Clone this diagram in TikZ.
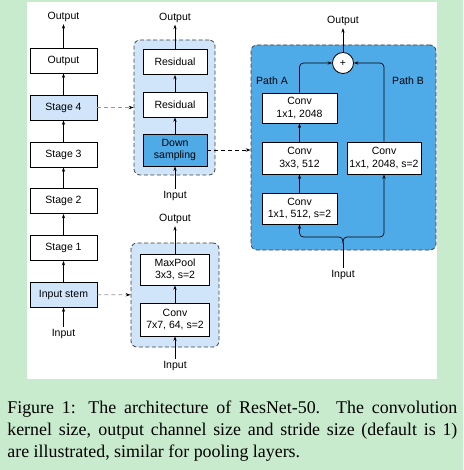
\documentclass[tikz,border=0pt]{standalone}
\usepackage{fontspec}
\setmainfont{Liberation Sans}
\newfontfamily\capfont{Liberation Serif}
\usetikzlibrary{arrows.meta}
\definecolor{bggreen}{RGB}{200,235,205}
\definecolor{paleblue}{RGB}{208,228,250}
\definecolor{midblue}{RGB}{78,171,232}
\definecolor{dashgray}{RGB}{150,150,150}

\tikzset{
  blk/.style={draw, fill=white, line width=0.8pt, minimum width=67pt, minimum height=25pt, inner sep=1pt, align=center},
  grp/.style={draw=black!75, dash pattern=on 4pt off 2.5pt, rounded corners=6pt, line width=0.8pt, inner sep=0pt},
  lbl/.style={inner sep=2pt},
  link/.style={-{Stealth[length=5pt,width=3.5pt,black]}, dash pattern=on 4pt off 3pt},
}

\begin{document}
\begin{tikzpicture}[x=1pt, y=-1pt, font=\fontsize{10.5}{12.5}\selectfont,
    >={Stealth[length=4.5pt,width=3.2pt]}, line width=0.7pt]
    \fill[bggreen] (0,0) rectangle (463,470);
    \fill[white] (27,2) rectangle (437,379);
    \useasboundingbox (0,0) rectangle (463,470);

    % stage column
    \node[lbl] (outL) at (63.5,17) {Output};
    \node[blk] (lout) at (63.5,60.5) {Output};
    \node[blk, fill=paleblue] (stage4) at (63.5,107.5) {Stage 4};
    \node[blk] (stage3) at (63.5,154.5) {Stage 3};
    \node[blk] (stage2) at (63.5,201) {Stage 2};
    \node[blk] (stage1) at (63.5,248) {Stage 1};
    \node[blk, fill=paleblue] (stem) at (63.5,294.5) {Input stem};
    \node[lbl] (inL) at (63.5,334) {Input};

    \draw[->] (inL) -- (stem);
    \draw[->] (stem) -- (stage1);
    \draw[->] (stage1) -- (stage2);
    \draw[->] (stage2) -- (stage3);
    \draw[->] (stage3) -- (stage4);
    \draw[->] (stage4) -- (lout);
    \draw[->] (lout) -- (outL);

    % stage block
    \node[grp, fill=paleblue, minimum width=81pt, minimum height=135pt] (grpS) at (174.5,107.5) {};
    \node[lbl] (outS) at (175,17.5) {Output};
    \node[blk, minimum width=64pt] (res2) at (175,62) {Residual};
    \node[blk, minimum width=64pt] (res1) at (175,104.5) {Residual};
    \node[blk, minimum width=64pt, minimum height=32pt, fill=midblue] (down) at (175,150) {Down\\sampling};
    \node[lbl] (inS) at (175,196) {Input};

    \draw[->] (inS) -- (down);
    \draw[->] (down) -- (res1);
    \draw[->] (res1) -- (res2);
    \draw[->] (res2) -- (outS);

    % stem block
    \node[grp, fill=paleblue, minimum width=88pt, minimum height=104pt] (grpT) at (175,295) {};
    \node[lbl] (outT) at (175,219) {Output};
    \node[blk, minimum width=69pt, minimum height=31pt] (pool) at (175,269.5) {MaxPool\\3x3, s=2};
    \node[blk, minimum width=69pt, minimum height=33pt] (conv7) at (175,319.5) {Conv\\7x7, 64, s=2};
    \node[lbl] (inT) at (175,366) {Input};

    \draw[->] (inT) -- (conv7);
    \draw[->] (conv7) -- (pool);
    \draw[->] (pool) -- (outT);

    % downsampling block
    \node[grp, fill=midblue, minimum width=185pt, minimum height=205pt] (grpD) at (343.5,147.5) {};
    \node[lbl] (outD) at (343,21) {Output};
    \node[draw, fill=white, circle, minimum size=21pt, inner sep=0pt, line width=0.8pt] (plus) at (343,63) {+};
    \node[lbl] at (272,81) {Path A};
    \node[lbl] at (408,81) {Path B};
    \node[blk, minimum width=75pt, minimum height=30pt] (convA3) at (299.5,108) {Conv\\1x1, 2048};
    \node[blk, minimum width=75pt, minimum height=32pt] (convA2) at (299.5,158) {Conv\\3x3, 512};
    \node[blk, minimum width=75pt, minimum height=31pt] (convA1) at (299.5,208.5) {Conv\\1x1, 512, s=2};
    \node[blk, minimum width=74pt, minimum height=32pt] (convB) at (384,158) {Conv\\1x1, 2048, s=2};
    \node[lbl] (inD) at (343,275) {Input};
    \coordinate (split) at (343,243);

    \draw (inD) -- (split);
    \draw[->, rounded corners=4pt] (split) -- ++(0,-6) -| (convA1);
    \draw[->, rounded corners=4pt] (split) -- ++(0,-6) -| (convB);
    \draw[->] (convA1) -- (convA2);
    \draw[->] (convA2) -- (convA3);
    \draw[->, rounded corners=4pt] (convA3) |- (plus);
    \draw[->, rounded corners=4pt] (convB) |- (plus);
    \draw[->] (plus) -- (outD);

    % links between blocks
    \draw[link, dashgray] (stage4) -- (grpS);
    \draw[link, dashgray] (stem) -- (grpT);
    \draw[link] (down.east) -- (down.east -| grpD.west);

    % caption
    \node[anchor=north west, inner sep=0pt, text width=450pt, align=justify,
        font=\capfont\fontsize{17.9}{22}\selectfont] (cap) at (7,401)
        {Figure 1: The architecture of ResNet-50. The convolution\linebreak
        kernel size, output channel size and stride size (default is 1)\linebreak
        are illustrated, similar for pooling layers.};
\end{tikzpicture}
\end{document}
